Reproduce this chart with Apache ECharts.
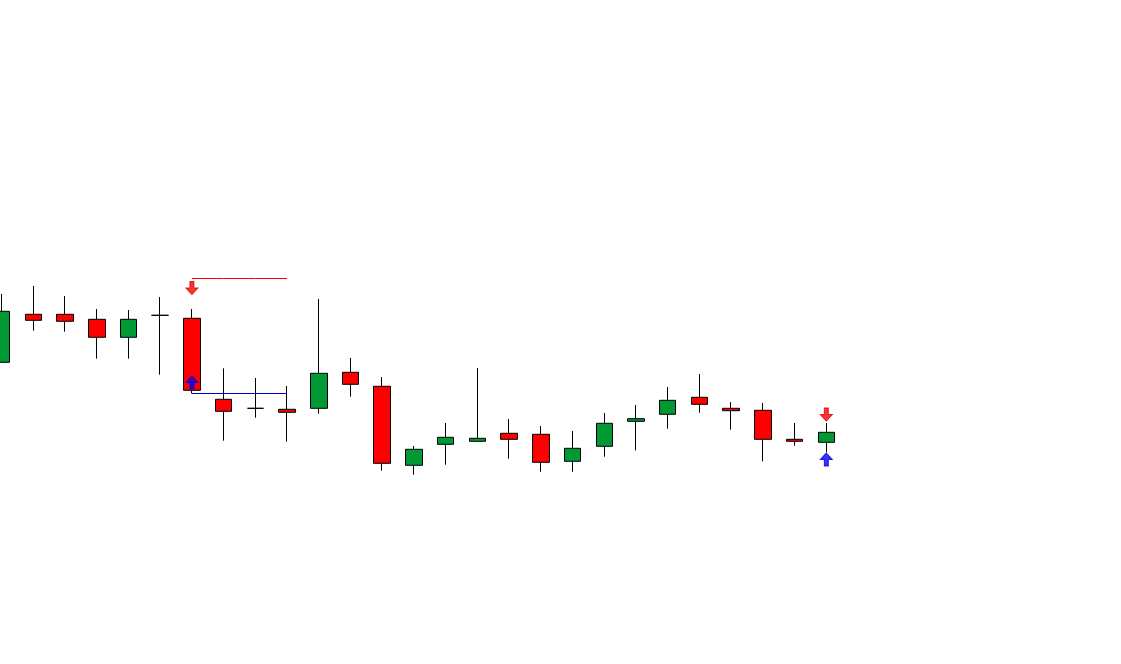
<!DOCTYPE html>
<html>
<head>
<meta charset="utf-8">
<script src="https://cdn.jsdelivr.net/npm/echarts@6/dist/echarts.min.js"></script>
<style>html,body{margin:0;padding:0;background:#fff;}#c{width:1121px;height:664px;}</style>
</head>
<body>
<div id="c"></div>
<script>
// Bar labels (36 slots: 27 candles + empty space on the right)
const categories = Array.from({length: 36}, (_, i) => 'Bar ' + (i + 1));
// [open, close, low, high]
const candles = [
  [30.17, 35.27, 30.15, 37.0],
  [34.97, 34.37, 33.33, 37.8],
  [34.97, 34.27, 33.23, 36.8],
  [34.47, 32.67, 30.53, 35.5],
  [32.67, 34.47, 30.53, 35.4],
  [34.87, 34.87, 28.93, 36.7],
  [34.57, 27.37, 27.05, 35.5],
  [26.47, 25.27, 22.33, 29.57],
  [25.57, 25.57, 24.63, 28.6],
  [25.47, 25.17, 22.23, 27.8],
  [25.57, 29.07, 25.03, 36.5],
  [29.17, 27.97, 26.73, 30.6],
  [27.77, 20.07, 19.33, 28.7],
  [19.87, 21.47, 18.93, 21.8],
  [21.97, 22.67, 19.93, 24.1],
  [22.27, 22.57, 22.27, 29.6],
  [23.07, 22.47, 20.53, 24.5],
  [22.97, 20.17, 19.23, 23.8],
  [20.27, 21.57, 19.23, 23.3],
  [21.77, 24.07, 20.73, 25.1],
  [24.27, 24.53, 21.37, 25.9],
  [24.97, 26.37, 23.53, 27.7],
  [26.67, 25.97, 25.13, 29.0],
  [25.57, 25.33, 23.43, 26.2],
  [25.37, 22.47, 20.27, 26.1],
  [22.47, 22.27, 21.83, 24.1],
  [22.17, 23.17, 21.17, 24.1]
];
// Signal arrows: [bar index, price]
const downArrows = [[6, 37.6], [26, 24.95]];
const upArrows = [[6, 28.15], [26, 20.45]];
// Horizontal levels: from bar, to bar, price
const resistanceLevel = {from: 6, to: 9, price: 38.55};
const supportLevel = {from: 6, to: 9, price: 27.05};

function levelData(l) {
  return categories.map((c, i) => (i >= l.from && i <= l.to) ? l.price : null);
}

const chart = echarts.init(document.getElementById('c'), null, {renderer: 'canvas'});
chart.setOption({
  animation: false,
  backgroundColor: '#ffffff',
  grid: {left: 1.6, right: 9.2, top: 0, bottom: 0, containLabel: false},
  xAxis: {
    type: 'category', data: categories, boundaryGap: false, show: false,
    axisLine: {show: false}, axisTick: {show: false}, axisLabel: {show: false}, splitLine: {show: false}
  },
  yAxis: {
    type: 'value', min: 0, max: 66.4, show: false, scale: false,
    splitLine: {show: false}
  },
  series: [
    {
      type: 'line', data: levelData(resistanceLevel), symbol: 'none',
      lineStyle: {color: '#ff0000', width: 1}, z: 1
    },
    {
      type: 'line', data: levelData(supportLevel), symbol: 'none',
      lineStyle: {color: '#0000dd', width: 1}, z: 1
    },
    {
      type: 'candlestick', data: candles, barWidth: 17, clip: false,
      itemStyle: {
        color: '#009933', color0: '#ff0000',
        borderColor: '#000000', borderColor0: '#000000', borderColorDoji: '#000000',
        borderWidth: 1
      },
      z: 2
    },
    {
      type: 'scatter', data: downArrows, clip: false,
      symbol: 'path://M4,0 L8,0 L8,6 L12,6 L6,12 L0,6 L4,6 Z',
      symbolSize: [12, 13],
      itemStyle: {color: '#ff0000', borderColor: '#d00000', borderWidth: 1},
      z: 3
    },
    {
      type: 'scatter', data: upArrows, clip: false,
      symbol: 'path://M6,0 L12,6 L8,6 L8,12 L4,12 L4,6 L0,6 Z',
      symbolSize: [12, 13],
      itemStyle: {color: '#0000ff', borderColor: '#0000c0', borderWidth: 1},
      z: 3
    }
  ]
});
</script>
</body>
</html>
